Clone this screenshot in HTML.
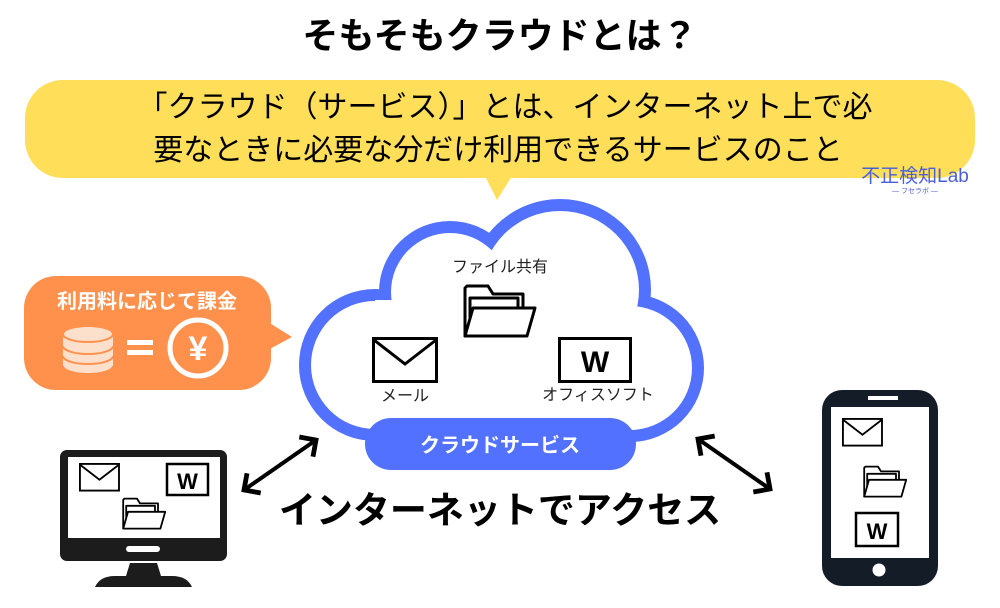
<!DOCTYPE html>
<html><head><meta charset="utf-8"><style>
html,body{margin:0;padding:0;background:#fff;}
svg{display:block;font-family:"Liberation Sans","Noto Sans CJK JP",sans-serif;}
</style></head><body>
<svg width="1000" height="608" viewBox="0 0 1000 608" xmlns="http://www.w3.org/2000/svg">
<defs>
<g id="env"><rect x="1.5" y="1.5" width="63" height="43" fill="#fff" stroke="#000" stroke-width="3"/><polyline points="2,3 33,27 64,3" fill="none" stroke="#000" stroke-width="3"/></g>
<g id="fold" fill="#fff" stroke="#000" stroke-width="3" stroke-linejoin="round"><path d="M2 8 L2 56 L60 56 L60 14 L30 14 L25 6 L4 6 Z"/><path d="M7 56 L7 18 L55 18 L55 30"/><path d="M2 56 L10 28 L72 28 L64 56 Z"/></g>
<marker id="ah" markerWidth="7" markerHeight="7" refX="3.5" refY="3.5" orient="auto-start-reverse"><path d="M0.5 0.5 L3.5 3.5 L0.5 6.5" fill="none" stroke="#000" stroke-width="1.2"/></marker>
</defs>
<text x="500" y="48" text-anchor="middle" font-size="36" font-weight="bold" fill="#000">そもそもクラウドとは？</text>
<rect x="25" y="80" width="950" height="98" rx="38" fill="#FFDE59"/>
<polygon points="485,176 512,176 497,200" fill="#FFDE59"/>
<text x="505" y="117" text-anchor="middle" font-size="30" fill="#000">「クラウド（サービス）」とは、インターネット上で必</text>
<text x="498" y="160" text-anchor="middle" font-size="30" fill="#000">要なときに必要な分だけ利用できるサービスのこと</text>
<text x="915" y="182" text-anchor="middle" font-size="19" fill="#4a5ed8">不正検知Lab</text>
<text x="915" y="193" text-anchor="middle" font-size="7" fill="#4a5ed8">― フセラボ ―</text>
<!-- cloud -->
<g fill="#5271FF"><circle cx="375" cy="365" r="76"/><circle cx="450" cy="292" r="71"/><circle cx="560" cy="290" r="91"/><circle cx="630" cy="368" r="74"/><rect x="375" y="300" width="255" height="141"/></g>
<g fill="#fff"><circle cx="375" cy="365" r="64"/><circle cx="450" cy="292" r="59"/><circle cx="560" cy="290" r="79"/><circle cx="630" cy="368" r="62"/><rect x="375" y="300" width="255" height="129"/></g>
<rect x="365" y="418" width="271" height="52" rx="26" fill="#5271FF"/>
<text x="500" y="452" text-anchor="middle" font-size="20" font-weight="bold" fill="#fff">クラウドサービス</text>
<text x="500" y="272" text-anchor="middle" font-size="16" fill="#222">ファイル共有</text>
<use href="#fold" x="463" y="280"/>
<use href="#env" x="372" y="337"/>
<text x="405" y="401" text-anchor="middle" font-size="16" fill="#222">メール</text>
<rect x="559.5" y="338.5" width="71" height="43" fill="#fff" stroke="#000" stroke-width="3"/>
<text x="595" y="372" text-anchor="middle" font-size="30" font-weight="bold" fill="#000">W</text>
<text x="598" y="400" text-anchor="middle" font-size="16" fill="#222">オフィスソフト</text>
<!-- orange -->
<rect x="24" y="276" width="247" height="114" rx="32" fill="#FF914D"/>
<polygon points="268,322 292,337 268,350" fill="#FF914D"/>
<text x="147" y="308" text-anchor="middle" font-size="20" font-weight="bold" fill="#fff">利用料に応じて課金</text>
<g fill="#FDE0CC" stroke="#FF914D" stroke-width="2"><ellipse cx="88" cy="366" rx="25" ry="8"/><rect x="63" y="352" width="50" height="14" stroke="none"/><ellipse cx="88" cy="356" rx="25" ry="8"/><rect x="63" y="342" width="50" height="14" stroke="none"/><ellipse cx="88" cy="346" rx="25" ry="8"/><rect x="63" y="332" width="50" height="14" stroke="none"/><ellipse cx="88" cy="334" rx="25" ry="8"/></g>
<rect x="127" y="340" width="26" height="5" fill="#fff"/><rect x="127" y="350" width="26" height="5" fill="#fff"/>
<circle cx="198" cy="348" r="28" fill="none" stroke="#fff" stroke-width="5"/>
<text x="198" y="360" text-anchor="middle" font-size="34" font-weight="bold" fill="#fff">¥</text>
<!-- monitor -->
<rect x="60" y="450" width="167" height="111" rx="7" fill="#1c1c1c"/>
<rect x="68" y="457" width="152" height="81" fill="#fff"/>
<rect x="126" y="546" width="34" height="6" rx="3" fill="#fff"/>
<polygon points="130,563 157,563 161,576 126,576" fill="#1c1c1c"/>
<path d="M95 587 Q100 576 115 576 L172 576 Q187 576 192 587 Z" fill="#1c1c1c"/>
<use href="#env" transform="translate(79,463) scale(0.62)"/>
<rect x="167" y="464" width="41" height="31" fill="#fff" stroke="#000" stroke-width="2.5"/>
<text x="187.5" y="489" text-anchor="middle" font-size="22" font-weight="bold">W</text>
<use href="#fold" transform="translate(122,495) scale(0.6)"/>
<!-- arrows -->
<line x1="244" y1="490" x2="316" y2="440" stroke="#000" stroke-width="4" marker-start="url(#ah)" marker-end="url(#ah)"/>
<line x1="698" y1="439" x2="770" y2="489" stroke="#000" stroke-width="4" marker-start="url(#ah)" marker-end="url(#ah)"/>
<text x="500" y="523" text-anchor="middle" font-size="37" font-weight="bold" fill="#000">インターネットでアクセス</text>
<!-- phone -->
<rect x="822" y="390" width="116" height="196" rx="20" fill="#131c27"/>
<rect x="831" y="407" width="98" height="151" fill="#fff"/>
<rect x="868" y="396" width="30" height="4" fill="#fff"/>
<circle cx="879" cy="570" r="6.5" fill="#fff"/>
<use href="#env" transform="translate(842,418) scale(0.62)"/>
<use href="#fold" transform="translate(863,463) scale(0.6)"/>
<rect x="856" y="513" width="42" height="33" fill="#fff" stroke="#000" stroke-width="2.5"/>
<text x="877" y="539" text-anchor="middle" font-size="22" font-weight="bold">W</text>
</svg>
</body></html>
